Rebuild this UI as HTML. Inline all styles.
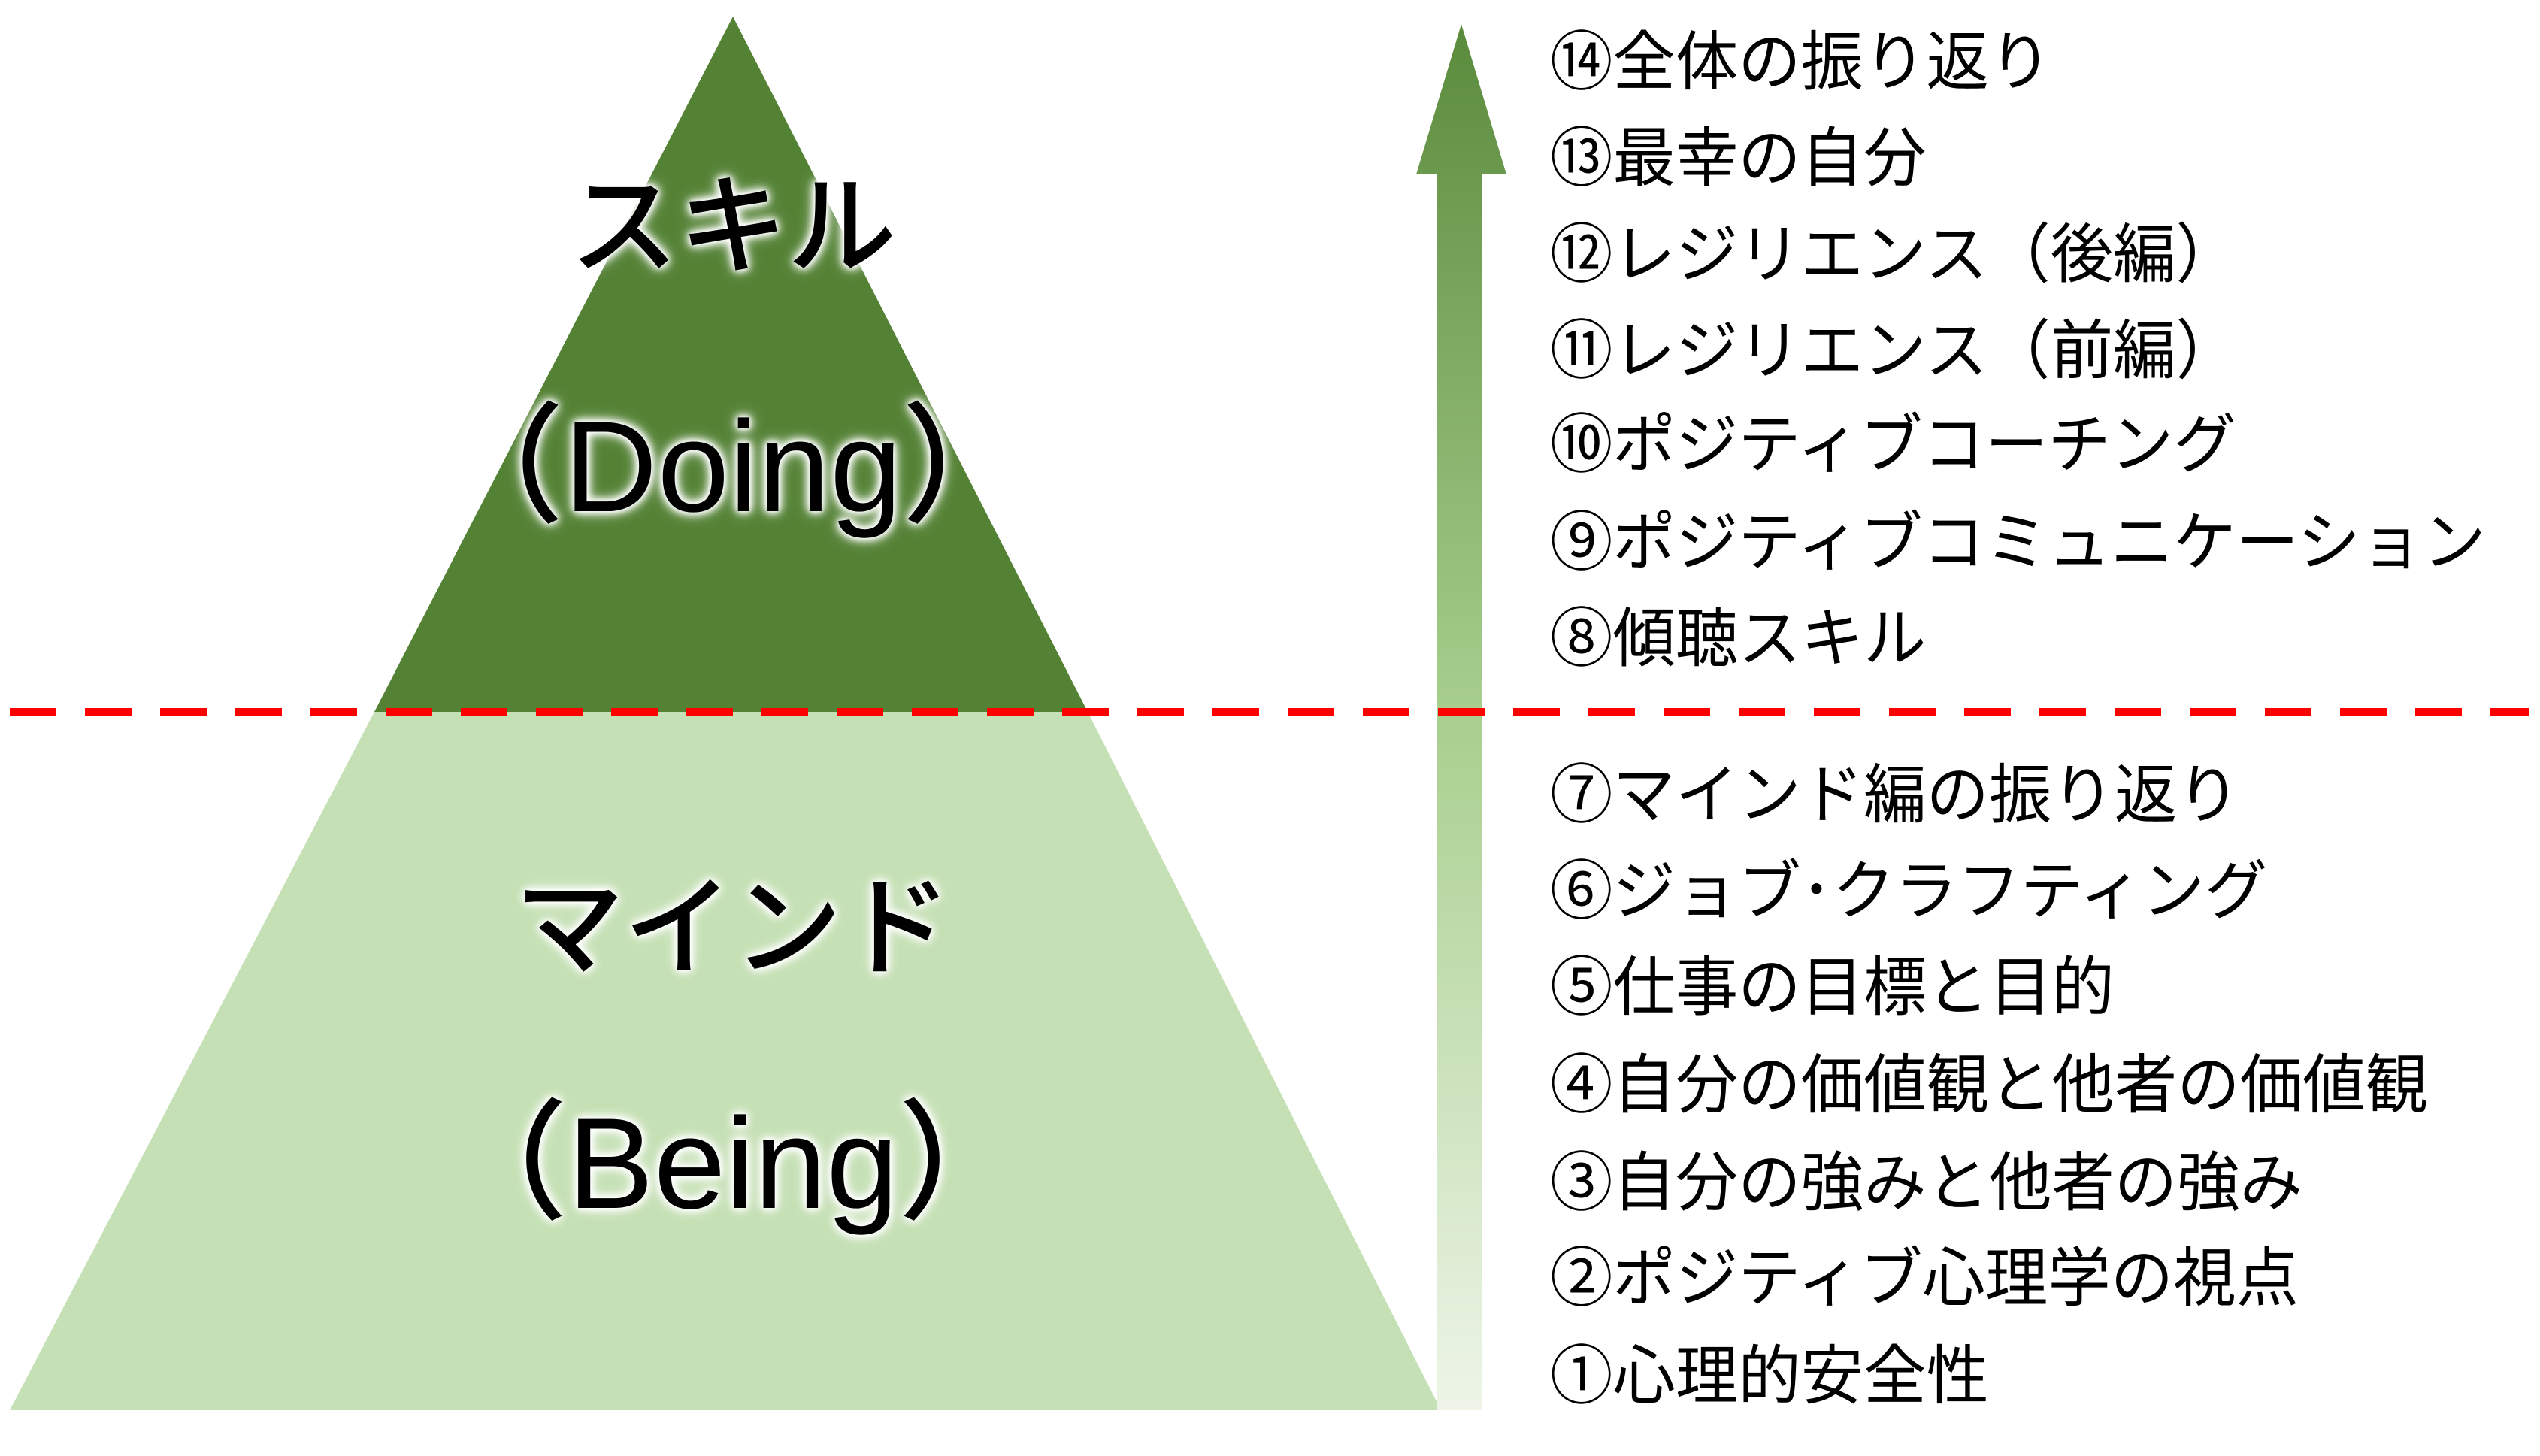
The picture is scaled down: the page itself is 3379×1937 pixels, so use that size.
<!DOCTYPE html>
<html><head><meta charset="utf-8"><style>
html,body{margin:0;padding:0;background:#fff;}
body{width:3379px;height:1937px;position:relative;overflow:hidden;font-family:"Liberation Sans","Noto Sans CJK JP",sans-serif;}
.big{position:absolute;left:475px;width:1000px;text-align:center;color:#000;font-weight:500;line-height:1;
text-shadow:0 0 12px #fff,0 0 12px #fff,0 0 20px #fff,0 0 6px #fff;}
.it{position:absolute;left:2062px;font-size:86px;line-height:1;color:#000;white-space:nowrap;transform:scaleX(0.97);transform-origin:left center;}
</style></head><body>
<svg width="3379" height="1937" style="position:absolute;left:0;top:0">
<defs><linearGradient id="g" x1="0" y1="0" x2="0" y2="1">
<stop offset="0" stop-color="#5a8a3c"/><stop offset="0.5" stop-color="#a8cf8e"/><stop offset="1" stop-color="#eef5e8"/></linearGradient></defs>
<polygon points="13,1876 498,947 1447,947 1917,1876" fill="#c5e0b4"/>
<polygon points="975,22 498,947 1447,947" fill="#548235"/>
<polygon points="1944,32 1884,232 1912,232 1912,1876 1971,1876 1971,232 2004,232" fill="url(#g)"/>
<line x1="13" y1="947" x2="3365" y2="947" stroke="#ff0000" stroke-width="10" stroke-dasharray="62,38"/>
</svg>
<div class="big" style="top:230px;font-size:145px">スキル</div>
<div class="big" style="top:535px;font-size:172px">（Doing）</div>
<div class="big" style="top:1163px;font-size:145px">マインド</div>
<div class="big" style="top:1462px;font-size:172px">（Being）</div>
<div class="it" style="top:40px">⑭全体の振り返り</div>
<div class="it" style="top:168px">⑬最幸の自分</div>
<div class="it" style="top:296px">⑫レジリエンス（後編）</div>
<div class="it" style="top:424px">⑪レジリエンス（前編）</div>
<div class="it" style="top:549px">⑩ポジティブコーチング</div>
<div class="it" style="top:679px">⑨ポジティブコミュニケーション</div>
<div class="it" style="top:807px">⑧傾聴スキル</div>
<div class="it" style="top:1015px">⑦マインド編の振り返り</div>
<div class="it" style="top:1143px">⑥ジョブ･クラフティング</div>
<div class="it" style="top:1271px">⑤仕事の目標と目的</div>
<div class="it" style="top:1401px">④自分の価値観と他者の価値観</div>
<div class="it" style="top:1531px">③自分の強みと他者の強み</div>
<div class="it" style="top:1658px">②ポジティブ心理学の視点</div>
<div class="it" style="top:1788px">①心理的安全性</div>
</body></html>
